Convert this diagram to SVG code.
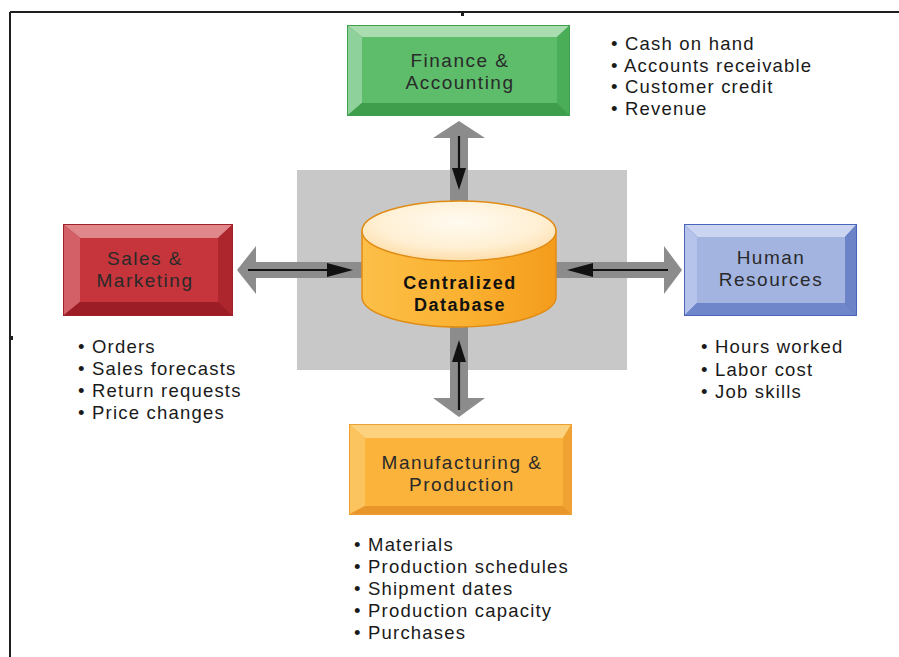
<svg xmlns="http://www.w3.org/2000/svg" width="899" height="657" viewBox="0 0 899 657">
<defs>
<style>
.lbl{font-family:"Liberation Sans",Arial,sans-serif;font-size:19px;fill:#2a2a2a;text-anchor:middle;letter-spacing:1.5px}
.lst{font-family:"Liberation Sans",Arial,sans-serif;font-size:18.5px;fill:#1a1a1a;letter-spacing:1.2px}
.db{font-family:"Liberation Sans",Arial,sans-serif;font-size:18px;font-weight:bold;fill:#111;text-anchor:middle;letter-spacing:1.5px}
.gshaft{fill:#8c8c8c}
.bl{stroke:#111;stroke-width:2.2;fill:none}
.bh{fill:#111}
.g .o{fill:#3f9f4d}.g .t{fill:#a9dcae}.g .l{fill:#8fd19a}.g .b{fill:#3e9e4c}.g .r{fill:#4aae59}.g .f{fill:#5dbd6a}
.rd .o{fill:#a2202a}.rd .t{fill:#e0878b}.rd .l{fill:#d36066}.rd .b{fill:#9c1d26}.rd .r{fill:#ad262e}.rd .f{fill:#c6353c}
.bu .o{fill:#4a66ba}.bu .t{fill:#cbd5f1}.bu .l{fill:#b6c4ec}.bu .b{fill:#7086cb}.bu .r{fill:#6c83c7}.bu .f{fill:#a3b4e1}
.or .o{fill:#eea032}.or .t{fill:#fdd27e}.or .l{fill:#fcc45e}.or .b{fill:#e8952a}.or .r{fill:#f0a232}.or .f{fill:#fbb33c}
</style>
<linearGradient id="cylBody" x1="0" y1="0" x2="1" y2="0">
<stop offset="0" stop-color="#fcbf48"/>
<stop offset="0.5" stop-color="#fbb232"/>
<stop offset="1" stop-color="#f49c1c"/>
</linearGradient>
<radialGradient id="cylTop" cx="0.5" cy="0.35" r="0.7">
<stop offset="0" stop-color="#fffaf0"/>
<stop offset="0.6" stop-color="#fff0d4"/>
<stop offset="1" stop-color="#fdd9a0"/>
</radialGradient>
</defs>
<rect x="0" y="0" width="899" height="657" fill="#ffffff"/>
<g id="frame" stroke="#1e1e1e" stroke-width="2" fill="none">
<line x1="10" y1="12" x2="899" y2="12"/>
<line x1="10" y1="12" x2="10" y2="657"/>
</g>
<rect x="461" y="12" width="3" height="4" fill="#1e1e1e"/>
<rect x="10" y="336" width="3" height="4" fill="#1e1e1e"/>

<rect id="backdrop" x="297" y="170" width="330" height="200" fill="#c8c8c8"/>

<g id="connectors">
<rect class="gshaft" x="450" y="136" width="18" height="70"/>
<polygon class="gshaft" points="459,121 485,138 433,138"/>
<line class="bl" x1="459" y1="136" x2="459" y2="170"/>
<polygon class="bh" points="452,168 466,168 459,190"/>
<rect class="gshaft" x="450" y="322" width="18" height="78"/>
<polygon class="gshaft" points="433,398 485,398 459,417"/>
<line class="bl" x1="459" y1="410" x2="459" y2="360"/>
<polygon class="bh" points="452,362 466,362 459,340"/>
<rect class="gshaft" x="253" y="262" width="115" height="16"/>
<polygon class="gshaft" points="237,270 256,246 256,294"/>
<line class="bl" x1="248" y1="270" x2="330" y2="270"/>
<polygon class="bh" points="327,263 327,277 353,270"/>
<rect class="gshaft" x="550" y="262" width="117" height="16"/>
<polygon class="gshaft" points="682,270 664,246 664,294"/>
<line class="bl" x1="668" y1="270" x2="590" y2="270"/>
<polygon class="bh" points="593,263 593,277 567,270"/>
</g>

<g id="db">
<path d="M362,231 L362,297 A97,30 0 0 0 556,297 L556,231 Z" fill="url(#cylBody)" stroke="#e08c14" stroke-width="1.5"/>
<ellipse cx="459" cy="231" rx="97" ry="30" fill="url(#cylTop)" stroke="#e08c14" stroke-width="1.5"/>
<text class="db" x="460" y="289">Centralized</text>
<text class="db" x="460" y="311">Database</text>
</g>

<g id="finance" class="g">
<rect class="o" x="347" y="25" width="223" height="91"/>
<polygon class="t" points="348,26 569,26 557,37 362,37"/>
<polygon class="l" points="348,26 362,37 362,103 348,115"/>
<polygon class="b" points="348,115 362,103 557,103 569,115"/>
<polygon class="r" points="569,26 569,115 557,103 557,37"/>
<rect class="f" x="362" y="37" width="195" height="66"/>
<text class="lbl" x="460" y="67">Finance &amp;</text>
<text class="lbl" x="460" y="89">Accounting</text>
</g>

<g id="sales" class="rd">
<rect class="o" x="63" y="224" width="170" height="92"/>
<polygon class="t" points="64,225 232,225 218,238 80,238"/>
<polygon class="l" points="64,225 80,238 80,302 64,315"/>
<polygon class="b" points="64,315 80,302 218,302 232,315"/>
<polygon class="r" points="232,225 232,315 218,302 218,238"/>
<rect class="f" x="80" y="238" width="138" height="64"/>
<text class="lbl" x="145" y="265">Sales &amp;</text>
<text class="lbl" x="145" y="287">Marketing</text>
</g>

<g id="hr" class="bu">
<rect class="o" x="684" y="224" width="173" height="92"/>
<polygon class="t" points="685,225 856,225 845,237 697,237"/>
<polygon class="l" points="685,225 697,237 697,303 685,315"/>
<polygon class="b" points="685,315 697,303 845,303 856,315"/>
<polygon class="r" points="856,225 856,315 845,303 845,237"/>
<rect class="f" x="697" y="237" width="148" height="66"/>
<text class="lbl" x="771" y="264">Human</text>
<text class="lbl" x="771" y="286">Resources</text>
</g>

<g id="mfg" class="or">
<rect class="o" x="349" y="424" width="223" height="91"/>
<polygon class="t" points="350,425 571,425 563,438 365,438"/>
<polygon class="l" points="350,425 365,438 365,506 350,514"/>
<polygon class="b" points="350,514 365,506 563,506 571,514"/>
<polygon class="r" points="571,425 571,514 563,506 563,438"/>
<rect class="f" x="365" y="438" width="198" height="68"/>
<text class="lbl" x="462" y="469">Manufacturing &amp;</text>
<text class="lbl" x="462" y="491">Production</text>
</g>

<g id="finance-list" class="lst">
<text x="611" y="50">• Cash on hand</text>
<text x="611" y="71.5">• Accounts receivable</text>
<text x="611" y="93">• Customer credit</text>
<text x="611" y="114.5">• Revenue</text>
</g>
<g id="sales-list" class="lst">
<text x="78" y="353">• Orders</text>
<text x="78" y="375">• Sales forecasts</text>
<text x="78" y="397">• Return requests</text>
<text x="78" y="419">• Price changes</text>
</g>
<g id="hr-list" class="lst">
<text x="701" y="353">• Hours worked</text>
<text x="701" y="376">• Labor cost</text>
<text x="701" y="398">• Job skills</text>
</g>
<g id="mfg-list" class="lst">
<text x="354" y="551">• Materials</text>
<text x="354" y="573">• Production schedules</text>
<text x="354" y="595">• Shipment dates</text>
<text x="354" y="617">• Production capacity</text>
<text x="354" y="639">• Purchases</text>
</g>
</svg>
